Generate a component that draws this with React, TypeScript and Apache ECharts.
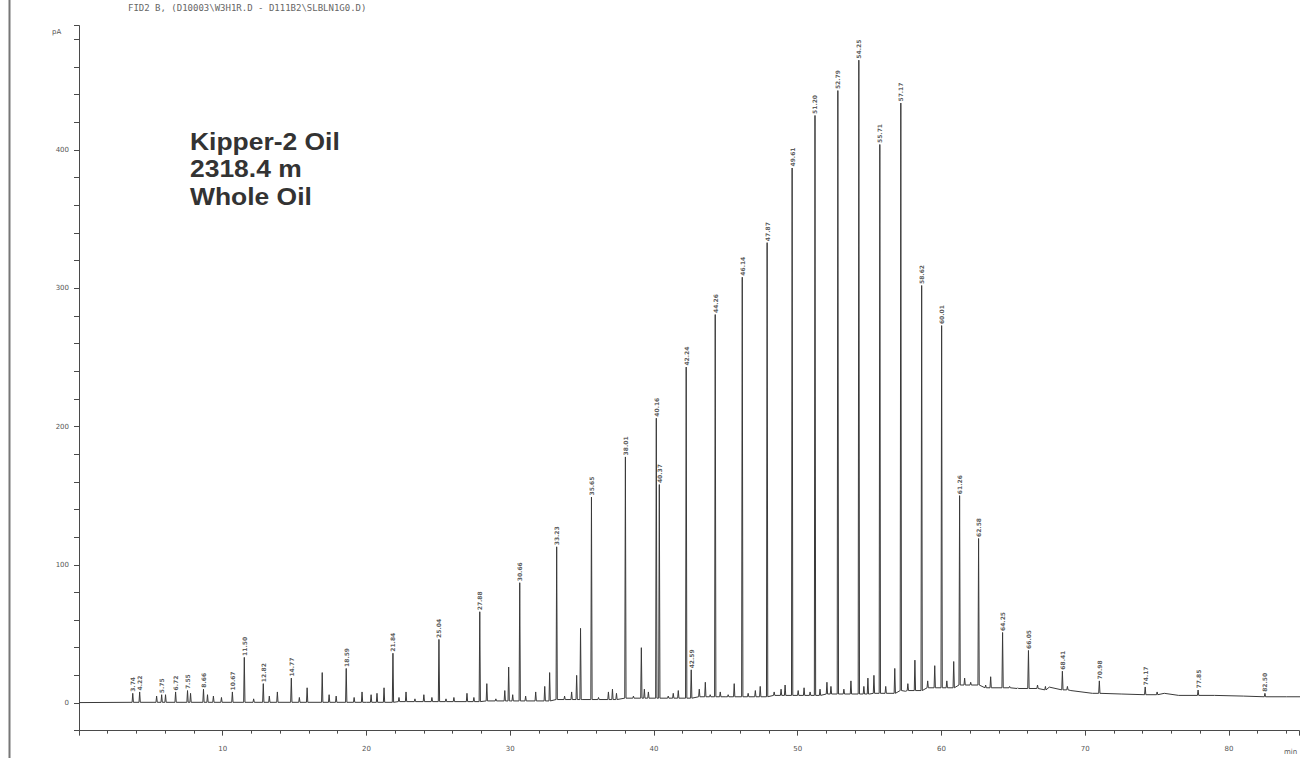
import React, { useEffect, useRef } from "react";
import * as echarts from "echarts";

// Chromatogram baseline (time in min, signal in pA)
const baselineTimes = [0, 20, 25, 30, 35, 40, 45, 50, 55, 57.5, 60, 62, 64, 66, 67.5, 69, 70.5, 72.5, 75.5, 76.5, 79, 81, 84, 86];
const baselineValues = [0.3, 0.5, 1, 1.5, 2.5, 3.5, 4.5, 5.5, 6.5, 8.5, 11, 13.5, 11, 10.5, 11.5, 9, 7, 6.5, 7, 5.5, 5.5, 5, 4.5, 4.5];

// Peaks: retention time, apex signal, foot (local baseline) signal
const peakTimes = [
  3.74, 4.22, 5.4, 5.75, 6.02, 6.72, 7.55, 7.76, 8.66, 8.94, 9.35, 9.91, 10.67, 11.5, 12.15, 12.82, 13.24, 13.8, 14.77, 15.33,
  15.87, 16.92, 17.4, 17.89, 18.59, 19.14, 19.69, 20.32, 20.73, 21.22, 21.84, 22.26, 22.75, 23.37, 23.99, 24.55, 25.04, 25.53, 26.08, 26.99,
  27.47, 27.88, 28.37, 29.0, 29.62, 29.89, 30.17, 30.66, 31.07, 31.77, 32.4, 32.74, 33.23, 33.78, 34.27, 34.62, 34.89, 35.65, 36.14, 36.83,
  37.11, 37.39, 38.01, 38.57, 39.12, 39.33, 39.61, 40.16, 40.37, 40.99, 41.34, 41.69, 42.24, 42.59, 43.15, 43.57, 43.91, 44.26, 44.61, 45.16,
  45.58, 46.14, 46.55, 47.05, 47.39, 47.87, 48.36, 48.84, 49.12, 49.61, 50.03, 50.44, 50.86, 51.2, 51.55, 52.03, 52.31, 52.79, 53.21, 53.7,
  54.25, 54.6, 54.88, 55.3, 55.71, 56.12, 56.75, 57.17, 57.66, 58.15, 58.62, 59.04, 59.53, 60.01, 60.37, 60.85, 61.26, 61.61, 62.03, 62.58,
  63.07, 63.42, 64.25, 64.74, 65.3, 66.05, 66.68, 67.23, 68.41, 68.76, 70.98, 74.17, 75.0, 77.85, 82.5,
];
const peakApex = [
  7, 8, 5, 6, 6, 8, 9, 7, 10, 6, 5, 4, 8, 33, 3, 14, 5, 8, 18, 4,
  11, 22, 6, 5, 25, 4, 8, 6, 7, 11, 36, 4, 8, 3, 6, 4, 46, 3, 4, 7,
  4, 66, 14, 3, 9, 26, 6, 87, 5, 8, 12, 22, 113, 5, 8, 20, 54, 149, 4, 8,
  10, 7, 178, 5, 40, 10, 8, 206, 158, 5, 7, 9, 243, 24, 10, 15, 6, 281, 8, 6,
  14, 308, 7, 9, 12, 333, 8, 10, 13, 387, 9, 11, 8, 425, 10, 15, 12, 443, 10, 16,
  465, 12, 18, 20, 404, 12, 25, 434, 14, 31, 302, 16, 27, 273, 16, 30, 150, 18, 15, 119,
  13, 19, 51, 12, 11, 38, 13, 12, 23, 12, 16, 11.6, 8, 9.4, 7,
];
const peakFoot = [
  0.5, 0.5, 0.5, 0.5, 0.5, 0.5, 0.5, 0.5, 0.5, 0.5, 0.5, 0.5, 0.5, 0.5, 0.5, 0.5, 0.5, 0.5, 0.5, 0.5,
  0.5, 0.5, 0.5, 0.5, 0.5, 0.5, 0.5, 0.5, 0.5, 0.5, 0.5, 1, 1, 1, 1, 1, 1, 1, 1, 1,
  1, 1, 1.5, 1.5, 1.5, 1.5, 1.5, 1.5, 1.5, 1.5, 1.5, 1.5, 2.5, 2.5, 2.5, 2.5, 2.5, 2.5, 2.5, 2.5,
  2.5, 2.5, 3.5, 3.5, 3.5, 3.5, 3.5, 3.5, 3.5, 3.5, 3.5, 3.5, 3.5, 3.5, 4.5, 4.5, 4.5, 4.5, 4.5, 4.5,
  4.5, 4.5, 4.5, 4.5, 4.5, 4.5, 5.5, 5.5, 5.5, 5.5, 5.5, 5.5, 5.5, 5.5, 5.5, 6.5, 6.5, 6.5, 6.5, 6.5,
  6.5, 6.5, 6.5, 7, 7, 7, 7, 9, 9, 9, 9, 11, 11, 11, 11, 11, 13, 13, 13, 13,
  11, 11, 11, 11, 10.5, 10.5, 10.5, 9.5, 9.5, 9.5, 7, 6, 6, 5.5, 4.5,
];

// Peaks carrying a retention-time label
const labelledTimes = [
  3.74, 4.22, 5.75, 6.72, 7.55, 8.66, 10.67, 11.5, 12.82, 14.77, 18.59, 21.84, 25.04, 27.88, 30.66, 33.23, 35.65, 38.01,
  40.16, 40.37, 42.24, 42.59, 44.26, 46.14, 47.87, 49.61, 51.2, 52.79, 54.25, 55.71, 57.17, 58.62, 60.01, 61.26, 62.58,
  64.25, 66.05, 68.41, 70.98, 74.17, 77.85, 82.5,
];

const yTickLabels = [0, 100, 200, 300, 400];
const xTickLabels = [10, 20, 30, 40, 50, 60, 70, 80];

const headerText = "FID2 B, (D10003\\W3H1R.D - D111B2\\SLBLN1G0.D)";
const sampleText = "Kipper-2 Oil\n2318.4 m\nWhole Oil";

function buildTrace() {
  const pts: number[][] = [];
  baselineTimes.forEach((t, i) => pts.push([t, baselineValues[i]]));
  const d = 0.045;
  peakTimes.forEach((t, i) => {
    pts.push([t - d, peakFoot[i]]);
    pts.push([t, peakApex[i]]);
    pts.push([t + d, peakFoot[i]]);
  });
  pts.sort((a, b) => a[0] - b[0]);
  return pts;
}

export default function App() {
  const ref = useRef<HTMLDivElement>(null);
  useEffect(() => {
    if (!ref.current) return;
    const chart = echarts.init(ref.current, undefined, { renderer: "svg" });
    const labelData = labelledTimes.map((t) => {
      const i = peakTimes.indexOf(t);
      return [t, peakApex[i]];
    });
    const axisColor = "#4a4a4a";
    const labelColor = "#555";
    const xMax = 84.87;
    chart.setOption({
      animation: false,
      backgroundColor: "#ffffff",
      grid: { left: 79, top: 25.6, right: 0, height: 705.05 },
      xAxis: [
        {
          type: "value",
          position: "bottom",
          min: 0,
          max: xMax,
          interval: 2,
          axisLine: { show: true, onZero: false, lineStyle: { color: axisColor, width: 1 } },
          axisTick: { show: true, length: 3, lineStyle: { color: axisColor } },
          splitLine: { show: false },
          axisLabel: { show: false },
        },
        {
          type: "value",
          position: "bottom",
          offset: 0,
          min: 0,
          max: xMax,
          interval: 10,
          axisLine: { show: false, onZero: false },
          axisTick: { show: true, length: 5, lineStyle: { color: axisColor } },
          splitLine: { show: false },
          axisLabel: {
            fontSize: 7,
            color: labelColor,
            margin: 15,
            fontFamily: "DejaVu Sans",
            formatter: (v: number) => (xTickLabels.indexOf(v) >= 0 ? String(v) : ""),
          },
        },
      ],
      yAxis: {
        type: "value",
        min: -20,
        max: 490,
        interval: 20,
        axisLine: { show: true, onZero: false, lineStyle: { color: axisColor, width: 1 } },
        axisTick: { show: true, length: 5, lineStyle: { color: axisColor } },
        splitLine: { show: false },
        axisLabel: {
          fontSize: 7,
          color: labelColor,
          margin: 10,
          fontFamily: "DejaVu Sans",
          formatter: (v: number) => (yTickLabels.indexOf(v) >= 0 ? String(v) : ""),
        },
      },
      series: [
        {
          type: "line",
          xAxisIndex: 0,
          data: buildTrace(),
          showSymbol: false,
          symbol: "none",
          silent: true,
          lineStyle: { color: "#3a3a3a", width: 1 },
          z: 2,
        },
        {
          type: "scatter",
          xAxisIndex: 0,
          data: labelData,
          symbolSize: 1,
          itemStyle: { color: "rgba(0,0,0,0)" },
          silent: true,
          z: 3,
          label: {
            show: true,
            position: "top",
            distance: 1,
            rotate: 90,
            align: "left",
            verticalAlign: "middle",
            fontSize: 6,
            fontWeight: "bold",
            fontFamily: "DejaVu Sans",
            color: "#333",
            formatter: (p: any) => p.value[0].toFixed(2),
          },
        },
      ],
      graphic: [
        {
          type: "line",
          shape: { x1: 9.5, y1: 0, x2: 9.5, y2: 758 },
          style: { stroke: "#777", lineWidth: 2 },
        },
        {
          type: "text",
          x: 128,
          y: 3,
          style: { text: headerText, font: "9px 'DejaVu Sans Mono'", fill: "#666" },
        },
        {
          type: "text",
          x: 52,
          y: 28,
          style: { text: "pA", font: "7px 'DejaVu Sans'", fill: "#555" },
        },
        {
          type: "text",
          x: 1284,
          y: 748,
          style: { text: "min", font: "7px 'DejaVu Sans'", fill: "#555" },
        },
        {
          type: "text",
          x: 190,
          y: 128,
          scaleX: 1.15,
          style: {
            text: sampleText,
            font: "bold 23px 'Liberation Sans'",
            lineHeight: 27.5,
            fill: "#333",
          },
        },
      ],
    });
    return () => chart.dispose();
  }, []);
  return (
    <div
      ref={ref}
      style={{ position: "fixed", left: 0, top: 0, width: 1302, height: 758, background: "#fff" }}
    />
  );
}
